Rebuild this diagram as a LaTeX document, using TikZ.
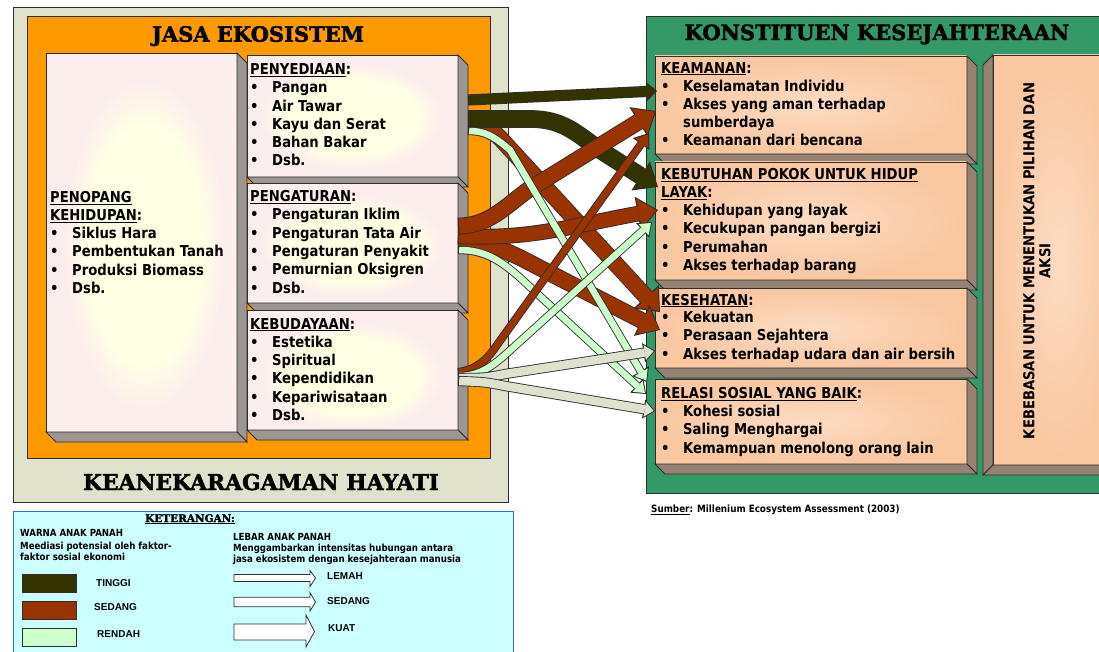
\documentclass[tikz,border=0pt]{standalone}
\usepackage{fontspec}
\setmainfont{DejaVu Sans}[FakeStretch=0.88]
\newfontfamily\slabfont{DejaVu Serif}[UprightFont=* Bold, FakeBold=2]
\newfontfamily\keyfont{Liberation Sans}
\usetikzlibrary{arrows.meta,calc}

\definecolor{panelbg}{HTML}{E0E2CC}
\definecolor{orangebg}{HTML}{FF9900}
\definecolor{greenbg}{HTML}{339966}
\definecolor{pinkface}{HTML}{FDEEEE}
\definecolor{paleyellow}{HTML}{FFFFE4}
\definecolor{grayside}{HTML}{9C9591}
\definecolor{peach}{HTML}{F9C7A0}
\definecolor{peachlight}{HTML}{FCDCC2}
\definecolor{brownside}{HTML}{968273}
\definecolor{edgegray}{HTML}{2E2E2E}
\definecolor{tinggi}{HTML}{333300}
\definecolor{sedang}{HTML}{993300}
\definecolor{rendah}{HTML}{CCFFCC}
\definecolor{pale}{HTML}{DDE1CD}
\definecolor{legendbg}{HTML}{CCFFFF}
\definecolor{legendline}{HTML}{3366FF}

\pgfdeclareradialshading{softoval}{\pgfpoint{0bp}{0bp}}{color(0bp)=(paleyellow); color(18bp)=(paleyellow); color(25bp)=(pinkface); color(50bp)=(pinkface)}

% side and bottom faces of a raised box
\newcommand{\slab}[2]{%
  \filldraw[fill=#2, boxline] (#1.north east) -- ++(10,10) -- ($(#1.south east)+(10,10)$) -- (#1.south east) -- cycle;
  \filldraw[fill=#2, boxline] (#1.south west) -- ++(10,10) -- ($(#1.south east)+(10,10)$) -- (#1.south east) -- cycle;}
\newcommand{\slableft}[2]{%
  \filldraw[fill=#2, boxline] (#1.north west) -- ++(-10,10) -- ($(#1.south west)+(-10,10)$) -- (#1.south west) -- cycle;
  \filldraw[fill=#2, boxline] (#1.south west) -- ++(-10,10) -- ($(#1.south east)+(-10,10)$) -- (#1.south east) -- cycle;}
\newcommand{\itemlist}[4]{%
  \foreach \itm [count=\i from 0] in {#4}
    \node[itm] (#1-\i) at (#2, #3+18.25*\i) {\makebox[22pt][l]{\textbullet}\itm};}
% block arrow: colour, shaft width, head length, head width, path
\newcommand{\flow}[5]{%
  \pgfmathsetmacro{\outl}{#3+2.6}\pgfmathsetmacro{\outw}{#4+4.5}\pgfmathsetmacro{\outlw}{#2+1.7}%
  \draw[line width=\outlw pt, edgegray, -{Triangle[length=\outl pt, width=\outw pt, line width=0pt 0]}] #5;
  \draw[line width=#2pt, #1, shorten <=1.2pt, shorten >=1.4pt, -{Triangle[length=#3pt, width=#4pt, line width=0pt 0]}] #5;}

\begin{document}
\begin{tikzpicture}[x=1pt, y=-1pt,
    boxline/.style={draw=edgegray, line width=0.8pt},
    face/.style={boxline, inner sep=0pt, outer sep=0pt, anchor=north west},
    leftface/.style={face, fill=pinkface},
    rightface/.style={face, inner color=peachlight, outer color=peach},
    itm/.style={anchor=base west, inner sep=0pt, font=\fontsize{15}{18}\selectfont\bfseries},
    title/.style={anchor=base, inner sep=0pt, font=\slabfont\fontsize{21}{21}\selectfont},
    small/.style={anchor=base west, inner sep=0pt, font=\fontsize{9.8}{12}\selectfont\bfseries},
    keylabel/.style={anchor=base west, inner sep=0pt, font=\keyfont\bfseries\fontsize{10}{12}\selectfont}]
  \useasboundingbox (0,0) rectangle (1099,652);

  \node[face, fill=panelbg, minimum width=495pt, minimum height=495pt] (biodiv) at (13,7) {};
  \node[face, fill=orangebg, minimum width=463pt, minimum height=442pt] (services) at (27,16) {};
  \node[title] (services-t) at (258,41.7) {JASA EKOSISTEM};
  \node[title, font=\slabfont\fontsize{21.8}{22}\selectfont] (biodiv-t) at (261,490) {KEANEKARAGAMAN HAYATI};

  \node[leftface, minimum width=191pt, minimum height=379pt] (supp) at (46,53) {};
  \shade[shading=softoval] (145,245) ellipse (80 and 165);
  \slab{supp}{grayside}
  \node[leftface, minimum width=211pt, minimum height=122pt] (prov) at (247,55) {};
  \shade[shading=softoval] (352,117) ellipse (90 and 52);
  \slab{prov}{grayside}
  \node[leftface, minimum width=211pt, minimum height=120pt] (regu) at (247,183) {};
  \shade[shading=softoval] (352,246) ellipse (90 and 50);
  \slab{regu}{grayside}
  \node[leftface, minimum width=211pt, minimum height=120pt] (cult) at (247,310) {};
  \shade[shading=softoval] (352,376) ellipse (90 and 53);
  \slab{cult}{grayside}

  \node[itm] (supp-h) at (50,202.3) {\underline{PENOPANG}};
  \node[itm] (supp-h2) at (50,220.5) {\underline{KEHIDUPAN}:};
  \itemlist{supp}{50}{238.5}{Siklus Hara, Pembentukan Tanah, Produksi Biomass, Dsb.}
  \node[itm] (prov-h) at (250,74.5) {\underline{PENYEDIAAN}:};
  \itemlist{prov}{250}{93}{Pangan, Air Tawar, Kayu dan Serat, Bahan Bakar, Dsb.}
  \node[itm] (regu-h) at (250,201.7) {\underline{PENGATURAN}:};
  \itemlist{regu}{250}{220}{Pengaturan Iklim, Pengaturan Tata Air, Pengaturan Penyakit, Pemurnian Oksigren, Dsb.}
  \node[itm] (cult-h) at (250,329) {\underline{KEBUDAYAAN}:};
  \itemlist{cult}{250}{347.3}{Estetika, Spiritual, Kependidikan, Kepariwisataan, Dsb.}

  \node[face, fill=greenbg, minimum width=470pt, minimum height=477pt] (wellbeing) at (646,16) {};
  \node[title] (wellbeing-t) at (877,40) {KONSTITUEN KESEJAHTERAAN};

  \node[rightface, minimum width=312pt, minimum height=98pt] (secu) at (655,56) {};
  \slab{secu}{brownside}
  \node[rightface, minimum width=312pt, minimum height=118pt] (basic) at (655,162) {};
  \slab{basic}{brownside}
  \node[rightface, minimum width=312pt, minimum height=80pt] (health) at (655,288) {};
  \slab{health}{brownside}
  \node[rightface, minimum width=312pt, minimum height=85pt] (social) at (655,379) {};
  \slab{social}{brownside}
  \node[rightface, minimum width=130pt, minimum height=410pt] (free) at (993,55) {};
  \slableft{free}{brownside}

  \node[itm] (secu-h) at (661,73.3) {\underline{KEAMANAN}:};
  \itemlist{secu}{661}{91.3}{Keselamatan Individu, Akses yang aman terhadap}
  \node[itm] (secu-wrap) at (683,127.8) {sumberdaya};
  \node[itm] (secu-2) at (661,146) {\makebox[22pt][l]{\textbullet}Keamanan dari bencana};
  \node[itm] (basic-h) at (661,180) {\underline{KEBUTUHAN POKOK UNTUK HIDUP}};
  \node[itm] (basic-h2) at (661,198) {\underline{LAYAK}:};
  \itemlist{basic}{661}{215.7}{Kehidupan yang layak, Kecukupan pangan bergizi, Perumahan, Akses terhadap barang}
  \node[itm] (health-h) at (661,305) {\underline{KESEHATAN}:};
  \itemlist{health}{661}{322.7}{Kekuatan, Perasaan Sejahtera, Akses terhadap udara dan air bersih}
  \node[itm] (social-h) at (661,398.3) {\underline{RELASI SOSIAL YANG BAIK}:};
  \itemlist{social}{661}{416.7}{Kohesi sosial, Saling Menghargai, Kemampuan menolong orang lain}
  \node[rotate=90, align=center, inner sep=0pt, font=\fontsize{15}{16}\selectfont\bfseries] (free-t) at (1037,261) {KEBEBASAN UNTUK MENENTUKAN PILIHAN DAN\\AKSI};

  \node[small, font=\fontsize{10}{12}\selectfont\bfseries] (source) at (651,512.7) {\underline{Sumber}: Millenium Ecosystem Assessment (2003)};

  \node[face, fill=legendbg, draw=legendline, line width=1pt, minimum width=500pt, minimum height=150pt] (legend) at (13,511) {};
  \node[anchor=base, inner sep=0pt, font=\slabfont\fontsize{10.5}{12}\selectfont] (legend-t) at (190,522) {\underline{KETERANGAN:}};
  \node[small] (colour-h) at (20,536.7) {WARNA ANAK PANAH};
  \node[small] (colour-1) at (20,549) {Meediasi potensial oleh faktor-};
  \node[small] (colour-2) at (20,560.5) {faktor sosial ekonomi};
  \node[small] (width-h) at (233,540) {LEBAR ANAK PANAH};
  \node[small] (width-1) at (233,551.7) {Menggambarkan intensitas hubungan antara};
  \node[small] (width-2) at (233,562.3) {jasa ekosistem dengan kesejahteraan manusia};
  \draw[boxline, fill=tinggi] (22,574) rectangle (76,592);
  \draw[boxline, fill=sedang] (22,601) rectangle (76,619);
  \draw[boxline, fill=rendah] (22,628) rectangle (76,646);
  \node[keylabel] (key-high) at (96,586) {TINGGI};
  \node[keylabel] (key-mid) at (94,610) {SEDANG};
  \node[keylabel] (key-low) at (97,637.3) {RENDAH};
  \draw[boxline, fill=white] (234,574.5) -- (310,574.5) -- (310,570.5) -- (315.5,578) -- (310,586.5) -- (310,581.5) -- (234,581.5) -- cycle;
  \draw[boxline, fill=white] (234,597.3) -- (310,597.3) -- (310,592.7) -- (315.5,602) -- (310,611) -- (310,606.7) -- (234,606.7) -- cycle;
  \draw[boxline, fill=white] (234,624) -- (306,624) -- (306,615) -- (314.5,631.5) -- (306,647) -- (306,640) -- (234,640) -- cycle;
  \node[keylabel] (key-weak) at (327,579) {LEMAH};
  \node[keylabel] (key-medium) at (327,604) {SEDANG};
  \node[keylabel] (key-strong) at (328,631.7) {KUAT};

  \coordinate (prov-o1) at (468,100);
  \coordinate (prov-o2) at (468,119);
  \coordinate (prov-o3) at (468,124);
  \coordinate (prov-o4) at (468,131);
  \coordinate (regu-o1) at (458,226);
  \coordinate (regu-o2) at (458,236);
  \coordinate (regu-o3) at (458,241);
  \coordinate (regu-o4) at (458,250);
  \coordinate (cult-o1) at (458,372);
  \coordinate (cult-o2) at (458,376);
  \coordinate (cult-o3) at (458,378);
  \coordinate (cult-o4) at (458,381);
  \coordinate (secu-i1) at (657,91);
  \coordinate (secu-i2) at (656,111);
  \coordinate (secu-i3) at (649,133);
  \coordinate (basic-i1) at (658,187);
  \coordinate (basic-i2) at (658,210);
  \coordinate (basic-i3) at (652,222);
  \coordinate (health-i1) at (660,312);
  \coordinate (health-i2) at (660,330);
  \coordinate (health-i3) at (655,351);
  \coordinate (social-i1) at (647,382);
  \coordinate (social-i2) at (646,394);
  \coordinate (social-i3) at (655,411);

  \flow{sedang}{15}{18}{30}{(prov-o3) .. controls (485,124) .. (500,138) -- (health-i1)}
  \flow{sedang}{15}{18}{30}{(regu-o3) .. controls (488,241) and (510,252) .. (540,268) -- (health-i2)}
  \flow{sedang}{14}{18}{30}{(regu-o2) .. controls (530,240) and (570,226) .. (basic-i2)}
  \flow{tinggi}{16}{18}{30}{(prov-o2) -- (530,119) .. controls (562,119) and (575,132) .. (600,150) -- (basic-i1)}
  \flow{sedang}{15}{18}{30}{(regu-o1) .. controls (488,226) and (505,207) .. (528,190) -- (secu-i2)}
  \flow{tinggi}{9.5}{8}{15}{(prov-o1) -- (secu-i1)}
  \flow{rendah}{6.5}{10}{15}{(prov-o4) .. controls (488,131) and (498,140) .. (510,150) -- (social-i1)}
  \flow{rendah}{6.5}{10}{15}{(regu-o4) .. controls (485,250) and (502,260) .. (530,287) -- (social-i2)}
  \flow{sedang}{6.5}{11}{16}{(cult-o1) .. controls (476,370) and (487,360) .. (497,345) -- (secu-i3)}
  \flow{rendah}{6.5}{10}{15}{(cult-o2) .. controls (478,376) and (490,368) .. (505,355) -- (basic-i3)}
  \flow{pale}{8.5}{9}{15}{(cult-o3) .. controls (485,378) .. (505,374) -- (health-i3)}
  \flow{pale}{8.5}{9}{15}{(cult-o4) .. controls (485,382) .. (505,386) -- (social-i3)}
\end{tikzpicture}
\end{document}
